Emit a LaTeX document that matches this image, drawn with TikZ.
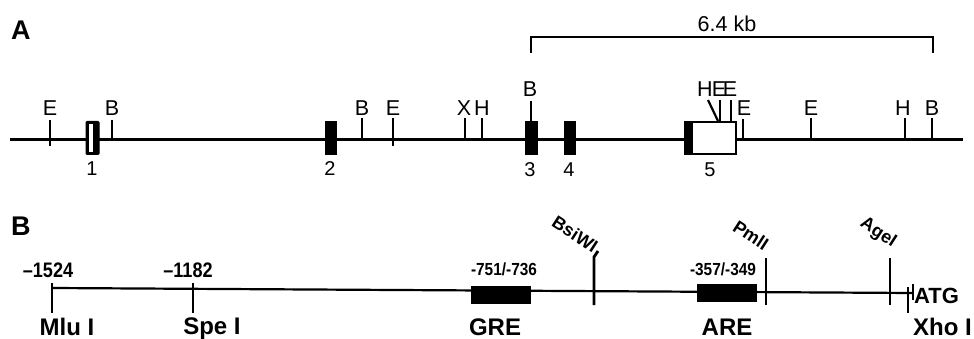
\documentclass[tikz,border=0pt]{standalone}
\usepackage{fontspec}
\setmainfont{Liberation Sans}
\begin{document}
\begin{tikzpicture}[x=1pt,y=-1pt,
  site/.style={font=\fontsize{21.5}{23}\selectfont,anchor=base,inner sep=0pt},
  exnum/.style={font=\fontsize{20}{22}\selectfont,anchor=base,inner sep=0pt},
  panel/.style={font=\bfseries\fontsize{27}{29}\selectfont,anchor=base west,inner sep=0pt},
  posl/.style={font=\bfseries\fontsize{21}{23}\selectfont,anchor=base,inner sep=0pt,xscale=0.86},
  motif/.style={font=\bfseries\fontsize{17.5}{19}\selectfont,anchor=base,inner sep=0pt,xscale=0.88},
  enz/.style={font=\bfseries\fontsize{24}{26}\selectfont,anchor=base,inner sep=0pt},
  renz/.style={font=\bfseries\fontsize{18}{20}\selectfont,inner sep=0pt,rotate=-33},
  tickA/.style={line width=2.2pt},
  tickB/.style={line width=2.8pt},
  exon/.style={fill=black,draw=black,line width=1pt}]
\useasboundingbox (0,0) rectangle (974,339);
% ---------- Panel A ----------
\node[panel] (lA) at (11,40) {A};
\coordinate (a0) at (10,139.5);
\coordinate (a1) at (963,139.5);
\draw[line width=2.2pt] (a0) -- (a1);
% bracket
\coordinate (br0) at (531,53);
\coordinate (br1) at (531,37);
\coordinate (br2) at (933,37);
\coordinate (br3) at (933,53);
\draw[line width=2.2pt] (br0) -- (br1) -- (br2) -- (br3);
\node[site] (kb) at (727,32) {6.4 kb};
% ticks
\draw[tickA] (50,120) -- (50,146);   \node[site] (t1) at (50,116) {E};
\draw[tickA] (112,120) -- (112,139); \node[site] (t2) at (112,116) {B};
\draw[tickA] (362,118) -- (362,139); \node[site] (t3) at (362,116) {B};
\draw[tickA] (393,118) -- (393,146); \node[site] (t4) at (393,116) {E};
\draw[tickA] (465,118) -- (465,139); \node[site] (t5) at (464,116) {X};
\draw[tickA] (482,118) -- (482,139); \node[site] (t6) at (482,116) {H};
\draw[tickA] (531,101) -- (531,121); \node[site] (t7) at (530,97) {B};
\draw[tickA] (708,100) -- (718,121);
\draw[tickA] (720,100) -- (720,121);
\draw[tickA] (731,100) -- (731,121);
\node[site] (t8) at (705,97) {H};
\node[site] (t9) at (719,97) {E};
\node[site] (t10) at (730,97) {E};
\draw[tickA] (743,119) -- (743,139); \node[site] (t11) at (744,116) {E};
\draw[tickA] (811,118) -- (811,139); \node[site] (t12) at (811,116) {E};
\draw[tickA] (905,118) -- (905,139); \node[site] (t13) at (903,116) {H};
\draw[tickA] (932,118) -- (932,139); \node[site] (t14) at (932,116) {B};
% exons
\filldraw[exon,rounded corners=1pt] (86,121.5) rectangle (99,154.5);
\fill[white] (89,124) rectangle (93,152);
\filldraw[exon] (325,121.5) rectangle (336,154.5);
\filldraw[exon] (525,121.5) rectangle (537,154.5);
\filldraw[exon] (564,121.5) rectangle (575,154.5);
\draw[line width=2.5pt,fill=white] (685,122) rectangle (736,154);
\fill[black] (684,121) rectangle (693,155);
\node[exnum] (e1) at (92,176) {1};
\node[exnum] (e2) at (330,176) {2};
\node[exnum] (e3) at (530,177) {3};
\node[exnum] (e4) at (569,177) {4};
\node[exnum] (e5) at (710,177) {5};
% ---------- Panel B ----------
\node[panel] (lB) at (11,235) {B};
\coordinate (b0) at (52,288);
\coordinate (b1) at (913,293);
\draw[line width=2.2pt] (b0) -- (b1);
% boxes
\fill[black] (471,286) rectangle (531,304);
\fill[black] (697,284) rectangle (757,302);
% ticks
\draw[tickB] (52,283) -- (52,313);
\draw[tickB] (193,283) -- (193,313);
\draw[tickB] (598,251) -- (594,257) -- (594,305);
\draw[tickB] (766,258) -- (766,305);
\draw[tickB] (890,258) -- (890,305);
\draw[tickB] (908,287) -- (908,313);
\draw[tickB] (913,284) -- (913,300);
% labels
\node[posl] (p1) at (48,277) {–1524};
\node[posl] (p2) at (188,277) {–1182};
\node[motif] (m1) at (504,275) {-751/-736};
\node[motif] (m2) at (723,275) {-357/-349};
\node[enz] (n1) at (67,335) {Mlu I};
\node[enz] (n2) at (212,334) {Spe I};
\node[enz] (n3) at (495,335) {GRE};
\node[enz] (n4) at (727,335) {ARE};
\node[enz,anchor=base west,font=\bfseries\fontsize{22}{24}\selectfont] (n5) at (914,303) {ATG};
\node[enz,anchor=base west] (n6) at (913,335) {Xho I};
\node[renz] (r1) at (575,234) {BsiWI};
\node[renz] (r2) at (751,235) {PmlI};
\node[renz] (r3) at (878,233) {AgeI};
\end{tikzpicture}
\end{document}
